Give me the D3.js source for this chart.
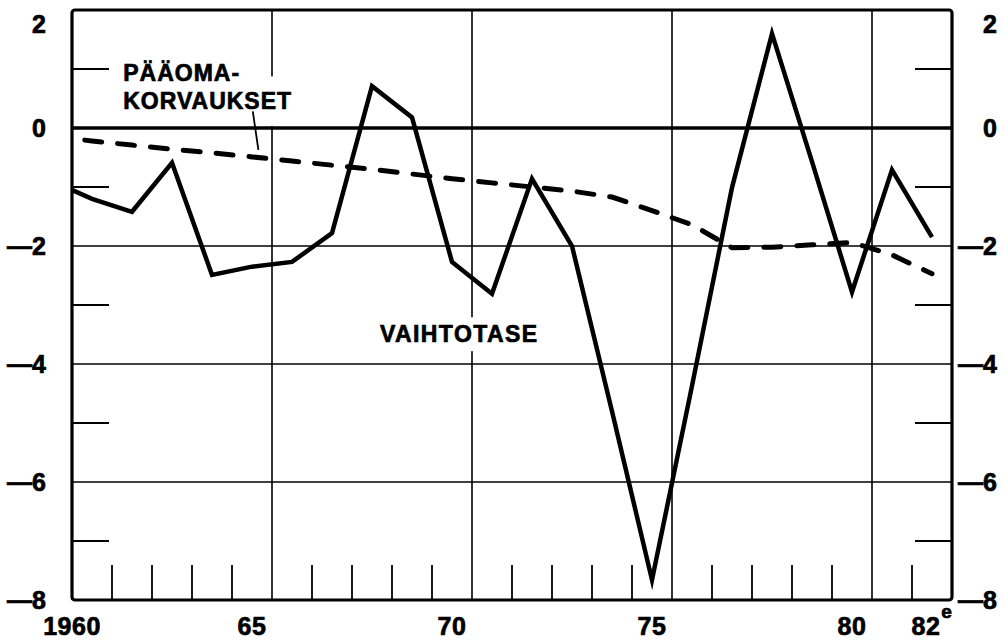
<!DOCTYPE html>
<html>
<head>
<meta charset="utf-8">
<script src="https://cdn.jsdelivr.net/npm/d3@7"></script>
<style>
    body { margin: 0; background: #fff; }
    text { font-family: "Liberation Sans", Arial, Helvetica, sans-serif; font-weight: bold; fill: #000; stroke: #000; stroke-width: 0.7px; }
    .grid { stroke: #000; stroke-width: 1.6; }
    .tick { stroke: #000; stroke-width: 1.8; }
</style>
</head>
<body>
<div id="chart"></div>
<script>

// years, one value per year (VAIHTOTASE = current account, PÄÄOMAKORVAUKSET = capital repayments)
var years = [1960, 1961, 1962, 1963, 1964, 1965, 1966, 1967, 1968, 1969, 1970, 1971,
             1972, 1973, 1974, 1975, 1976, 1977, 1978, 1979, 1980, 1981, 1982];

var vaihtotase = [-0.9, -1.2, -1.42, -0.59, -2.49, -2.35, -2.27, -1.78, 0.71, 0.18, -2.27, -2.81,
                  -0.86, -2.0, -4.8, -7.66, -4.37, -1.01, 1.6, -0.57, -2.78, -0.71, -1.85];

var paaomakorvaukset = [-0.14, -0.22, -0.29, -0.36, -0.42, -0.49, -0.56, -0.63, -0.70, -0.78, -0.86, -0.93,
                        -1.0, -1.07, -1.17, -1.4, -1.64, -2.03, -2.02, -1.98, -1.94, -2.15, -2.47];

// axis ticks
var yTicks = [2, 0, -2, -4, -6, -8];
var yTickLabels = ["2", "0", "\u20142", "\u20144", "\u20146", "\u20148"];
var yMinorTicks = [1, -1, -3, -5, -7];
var xTickYears = [1960, 1965, 1970, 1975, 1980, 1982];
var xTickLabels = ["1960", "65", "70", "75", "80", "82"];
var xGridYears = [1965, 1970, 1975, 1980];


initializeChart();


function initializeChart() {
    var totalWidth = 1005, totalHeight = 644;
    var margin = { left: 72, right: 53, top: 10, bottom: 44 };
    var width = totalWidth - margin.left - margin.right;
    var height = totalHeight - margin.top - margin.bottom;

    var svg = d3.select("#chart").append("svg")
        .attr("width", totalWidth)
        .attr("height", totalHeight);

    var c = svg.append("g")
        .attr("transform", "translate(" + margin.left + "," + margin.top + ")");

    // each year sits in the middle of its own slot, slot edges are the grid
    var x = d3.scaleLinear().domain([1960.5, 1982.5]).range([0, width]);
    var y = d3.scaleLinear().domain([-8, 2]).range([height, 0]);

    // vertical gridlines
    c.selectAll("line.vgrid").data(xGridYears).enter().append("line")
        .attr("class", "grid vgrid")
        .attr("x1", function (d) { return x(d + 0.5); })
        .attr("x2", function (d) { return x(d + 0.5); })
        .attr("y1", 0)
        .attr("y2", height);

    // horizontal gridlines
    c.selectAll("line.hgrid").data(yTicks.filter(function (d) { return d < 0 && d > -8; })).enter().append("line")
        .attr("class", "grid hgrid")
        .attr("x1", 0)
        .attr("x2", width)
        .attr("y1", function (d) { return y(d); })
        .attr("y2", function (d) { return y(d); });

    // short year ticks on the bottom
    var minorYears = years.slice(0, -1).filter(function (d) { return xGridYears.indexOf(d) < 0; });
    c.selectAll("line.xminor").data(minorYears).enter().append("line")
        .attr("class", "tick xminor")
        .attr("x1", function (d) { return x(d + 0.5); })
        .attr("x2", function (d) { return x(d + 0.5); })
        .attr("y1", height)
        .attr("y2", height - 35);

    // short ticks at the odd values, both sides
    c.selectAll("line.yminorL").data(yMinorTicks).enter().append("line")
        .attr("class", "tick yminorL")
        .attr("x1", 0)
        .attr("x2", 37)
        .attr("y1", function (d) { return y(d); })
        .attr("y2", function (d) { return y(d); });

    c.selectAll("line.yminorR").data(yMinorTicks).enter().append("line")
        .attr("class", "tick yminorR")
        .attr("x1", width - 37)
        .attr("x2", width)
        .attr("y1", function (d) { return y(d); })
        .attr("y2", function (d) { return y(d); });

    // line labels, with a white patch so the grid does not run through them
    var lbl1 = c.append("g");
    var lbl1Text = lbl1.append("text")
        .attr("x", x(1961.78))
        .attr("y", y(0.79))
        .style("font-size", "23px")
        .style("letter-spacing", "1px");
    lbl1Text.append("tspan").text("PÄÄOMA-");
    lbl1Text.append("tspan")
        .attr("x", x(1961.78))
        .attr("y", y(0.33))
        .text("KORVAUKSET");
    var b1 = lbl1Text.node().getBBox();
    lbl1.insert("rect", "text")
        .attr("x", b1.x - 4)
        .attr("y", b1.y + 16)
        .attr("width", b1.width + 8)
        .attr("height", y(0) - b1.y - 18)
        .attr("fill", "#fff");

    // leader from the label down to the dashed line
    c.append("line")
        .attr("class", "tick")
        .attr("x1", x(1965.02))
        .attr("y1", y(0.28))
        .attr("x2", x(1965.16))
        .attr("y2", y(-0.37));

    var lbl2 = c.append("g");
    var lbl2Text = lbl2.append("text")
        .attr("x", x(1968.2))
        .attr("y", y(-3.63))
        .style("font-size", "23px")
        .style("letter-spacing", "1.4px")
        .text("VAIHTOTASE");
    var b2 = lbl2Text.node().getBBox();
    lbl2.insert("rect", "text")
        .attr("x", b2.x - 4)
        .attr("y", b2.y - 4)
        .attr("width", b2.width + 8)
        .attr("height", b2.height + 8)
        .attr("fill", "#fff");

    // zero line
    c.append("line")
        .attr("x1", 0)
        .attr("x2", width)
        .attr("y1", y(0))
        .attr("y2", y(0))
        .attr("stroke", "#000")
        .attr("stroke-width", 3.5);

    // clip the series to the frame
    c.append("clipPath").attr("id", "clip")
        .append("rect")
        .attr("width", width)
        .attr("height", height);

    var line = d3.line()
        .x(function (d, i) { return x(years[i]); })
        .y(function (d) { return y(d); });

    var series = c.append("g").attr("clip-path", "url(#clip)");

    series.append("path")
        .attr("d", line(paaomakorvaukset))
        .attr("fill", "none")
        .attr("stroke", "#000")
        .attr("stroke-width", 5)
        .attr("stroke-linecap", "round")
        .attr("stroke-dasharray", "17,16");

    series.append("path")
        .attr("d", line(vaihtotase))
        .attr("fill", "none")
        .attr("stroke", "#000")
        .attr("stroke-width", 4.5)
        .attr("stroke-linejoin", "miter")
        .attr("stroke-miterlimit", 10);

    // frame
    c.append("rect")
        .attr("width", width)
        .attr("height", height)
        .attr("rx", 3)
        .attr("fill", "none")
        .attr("stroke", "#000")
        .attr("stroke-width", 3.2);

    // y axis labels, left and right
    c.selectAll("text.yl").data(yTicks).enter().append("text")
        .attr("class", "yl")
        .attr("x", -26)
        .attr("y", function (d) { return Math.max(y(d), 14); })
        .attr("dy", "0.36em")
        .attr("text-anchor", "end")
        .style("font-size", "25px")
        .text(function (d, i) { return yTickLabels[i]; });

    c.selectAll("text.yr").data(yTicks).enter().append("text")
        .attr("class", "yr")
        .attr("x", width + 45)
        .attr("y", function (d) { return Math.max(y(d), 14); })
        .attr("dy", "0.36em")
        .attr("text-anchor", "end")
        .style("font-size", "25px")
        .text(function (d, i) { return yTickLabels[i]; });

    // x axis labels
    var xl = c.selectAll("text.xl").data(xTickYears).enter().append("text")
        .attr("class", "xl")
        .attr("x", function (d) { return Math.max(x(d), 0); })
        .attr("y", height + 35)
        .attr("text-anchor", "middle")
        .style("font-size", "25px")
        .style("letter-spacing", "0.5px")
        .text(function (d, i) { return xTickLabels[i]; });

    // estimate mark on the last year
    xl.filter(function (d) { return d === 1982; })
        .append("tspan")
        .attr("dx", 1)
        .attr("dy", -17)
        .style("font-size", "19px")
        .text("e");
}

</script>
</body>
</html>
